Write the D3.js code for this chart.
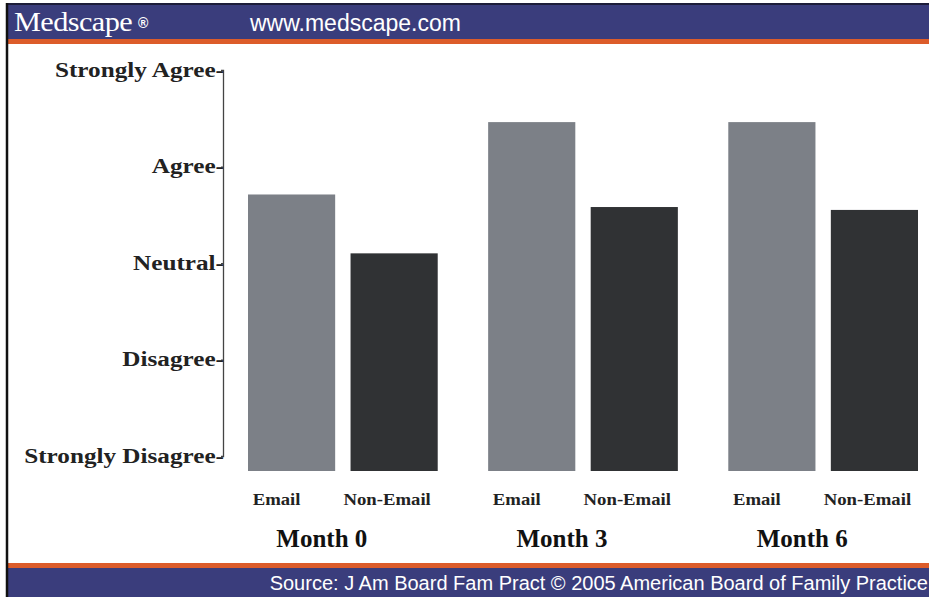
<!DOCTYPE html>
<html>
<head>
<meta charset="utf-8">
<script src="https://cdn.jsdelivr.net/npm/d3@7"></script>
<style>
  body { margin: 0; background: #fff; }
  svg { display: block; }
</style>
</head>
<body>
<svg width="929" height="597"></svg>
<script>
const months = ['Month 0', 'Month 3', 'Month 6']
const groups = ['Email', 'Non-Email']
const emailScores = [3.71, 4.46, 4.46]
const nonEmailScores = [3.10, 3.58, 3.55]
const scaleLabels = ['Strongly Disagree', 'Disagree', 'Neutral', 'Agree', 'Strongly Agree']
const scaleValues = [1, 2, 3, 4, 5]

const rows = months.map((m, i) => ({ month: m, Email: emailScores[i], 'Non-Email': nonEmailScores[i] }))

const width = 929
const height = 597
const svg = d3.select('svg')

const navy = '#3a3d7c'
const orange = '#dc5c2a'
const colors = d3.scaleOrdinal().domain(groups).range(['#7c8087', '#303234'])

// header and footer bands
svg.append('rect').attr('x', 7).attr('y', 4).attr('width', width - 7).attr('height', 36).attr('fill', navy)
svg.append('rect').attr('x', 7).attr('y', 3).attr('width', width - 7).attr('height', 2).attr('fill', '#1d1d3a')
svg.append('rect').attr('x', 7).attr('y', 39).attr('width', width - 7).attr('height', 5).attr('fill', orange)
svg.append('rect').attr('x', 7).attr('y', 563).attr('width', width - 7).attr('height', 5).attr('fill', orange)
svg.append('rect').attr('x', 7).attr('y', 568).attr('width', width - 7).attr('height', 29).attr('fill', navy)
svg.append('line').attr('x1', 7).attr('x2', 7).attr('y1', 3).attr('y2', height)
  .attr('stroke', '#111').attr('stroke-width', 2.5)

svg.append('text')
  .attr('transform', 'translate(14,31) scale(1.08,1)')
  .attr('font-family', 'Liberation Serif, serif')
  .attr('font-size', 28)
  .attr('letter-spacing', -0.5)
  .attr('fill', '#fff')
  .text('Medscape')
svg.append('text')
  .attr('x', 138).attr('y', 28)
  .attr('font-family', 'Liberation Sans, sans-serif')
  .attr('font-size', 14)
  .attr('font-weight', 'bold')
  .attr('fill', '#fff')
  .text('®')
svg.append('text')
  .attr('x', 250).attr('y', 31)
  .attr('font-family', 'Liberation Sans, Arial, sans-serif')
  .attr('font-size', 23)
  .attr('fill', '#fff')
  .text('www.medscape.com')

svg.append('text')
  .attr('x', 928).attr('y', 590)
  .attr('text-anchor', 'end')
  .attr('font-family', 'Liberation Sans, Arial, sans-serif')
  .attr('font-size', 20)
  .attr('fill', '#fff')
  .text('Source: J Am Board Fam Pract © 2005 American Board of Family Practice')

// scales
const y = d3.scaleLinear().domain([1, 5]).range([456, 70])
const baseY = y(1) + 15
const x0 = d3.scaleBand().domain(months).range([248, 918]).paddingInner(0.21)
const x1 = d3.scaleBand().domain(groups).range([0, x0.bandwidth()]).paddingInner(0.15)

// y axis
const yAxis = svg.append('g')
  .attr('transform', 'translate(223,0)')
  .call(d3.axisLeft(y).tickValues(scaleValues).tickSize(2).tickPadding(0)
    .tickFormat(v => scaleLabels[v - 1] + '-'))
yAxis.select('.domain').attr('stroke', '#444').attr('stroke-width', 1.3)
yAxis.selectAll('.tick line').attr('stroke', '#444')
yAxis.selectAll('.tick text').remove()
yAxis.selectAll('.tick')
  .append('text')
  .attr('transform', 'translate(1,0) scale(1.26,1)')
  .attr('dy', '0.32em')
  .attr('text-anchor', 'end')
  .attr('font-family', 'Liberation Serif, serif')
  .attr('font-weight', 'bold')
  .attr('font-size', 20)
  .attr('fill', '#222')
  .text(v => scaleLabels[v - 1] + '-')

// bars
const monthG = svg.append('g')
  .selectAll('g')
  .data(rows)
  .join('g')
  .attr('transform', d => 'translate(' + x0(d.month) + ',0)')

monthG.selectAll('rect')
  .data(d => groups.map(k => ({ key: k, value: d[k] })))
  .join('rect')
  .attr('x', d => x1(d.key))
  .attr('y', d => y(d.value))
  .attr('width', x1.bandwidth())
  .attr('height', d => baseY - y(d.value))
  .attr('fill', d => colors(d.key))

monthG.selectAll('.glabel')
  .data(groups)
  .join('text')
  .attr('class', 'glabel')
  .attr('transform', k => 'translate(' + (x1(k) + x1.bandwidth() / 2 + (k === 'Email' ? -15 : -7)) + ',505) scale(1.17,1)')
  .attr('text-anchor', 'middle')
  .attr('font-family', 'Liberation Serif, serif')
  .attr('font-weight', 'bold')
  .attr('font-size', 16)
  .attr('fill', '#222')
  .text(k => k)

monthG.append('text')
  .attr('x', x0.bandwidth() / 2 - 21)
  .attr('y', 547)
  .attr('text-anchor', 'middle')
  .attr('font-family', 'Liberation Serif, serif')
  .attr('font-weight', 'bold')
  .attr('font-size', 25)
  .attr('fill', '#111')
  .text(d => d.month)
</script>
</body>
</html>
